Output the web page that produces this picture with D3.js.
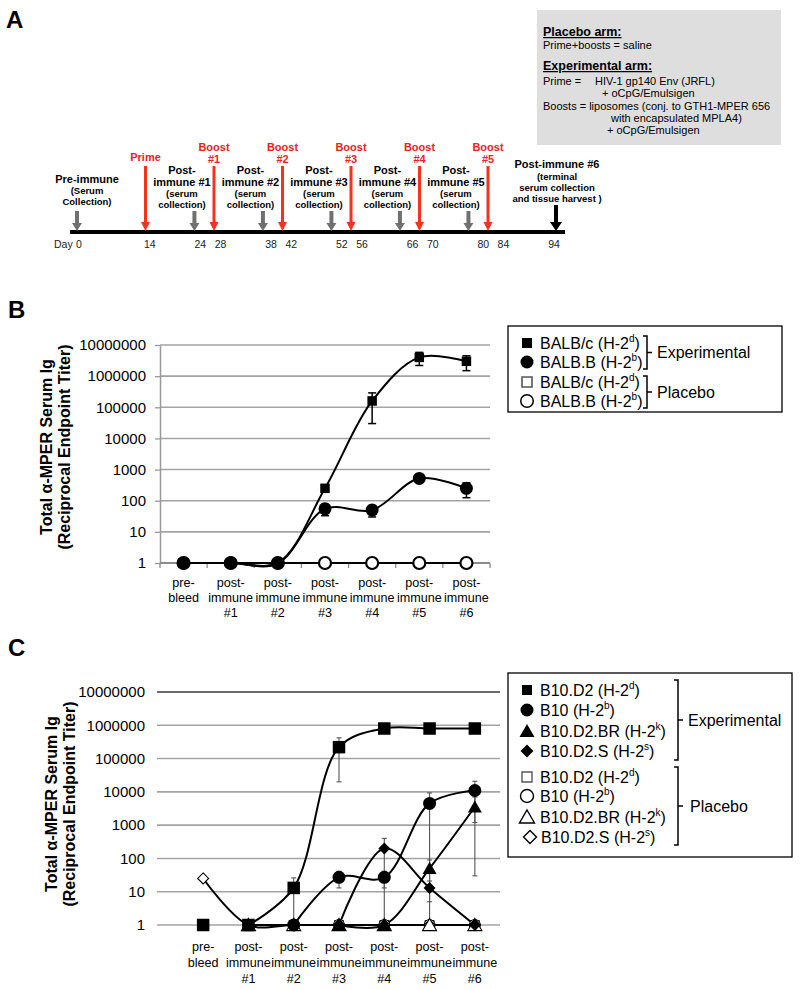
<!DOCTYPE html>
<html><head><meta charset="utf-8">
<script src="https://cdn.jsdelivr.net/npm/d3@7"></script>
<style>
body{margin:0;background:#fff}
svg{display:block}
text{font-family:"Liberation Sans",Arial,Helvetica,sans-serif}
</style>
</head><body>
<svg id="fig" width="800" height="990"></svg>
<script>
// ================= DATA =================
// Panel A: immunization timeline
const dayTicks = [0, 14, 24, 28, 38, 42, 52, 56, 66, 70, 80, 84, 94];
const collectionDays = [0, 24, 38, 52, 66, 80];
const collectionLabels = [
  ["Pre-immune", "(Serum", "Collection)"],
  ["Post-", "immune #1", "(serum", "collection)"],
  ["Post-", "immune #2", "(serum", "collection)"],
  ["Post-", "immune #3", "(serum", "collection)"],
  ["Post-", "immune #4", "(serum", "collection)"],
  ["Post-", "immune #5", "(serum", "collection)"]
];
const doseDays = [14, 28, 42, 56, 70, 84];
const doseLabels = [["Prime"], ["Boost", "#1"], ["Boost", "#2"], ["Boost", "#3"], ["Boost", "#4"], ["Boost", "#5"]];
const terminalDay = 94;
const terminalLabel = ["Post-immune #6", "(terminal", "serum collection", "and tissue harvest )"];
const boxHeadings = ["Placebo arm:", "Experimental arm:"];
const boxLines = ["Prime+boosts = saline", "Prime =", "HIV-1 gp140 Env (JRFL)", "+ oCpG/Emulsigen",
  "Boosts = liposomes (conj. to GTH1-MPER 656", "with encapsulated MPLA4)", "+ oCpG/Emulsigen"];

// Shared categories / ticks (panels B and C)
const categories = ["pre-bleed", "post-immune #1", "post-immune #2", "post-immune #3", "post-immune #4", "post-immune #5", "post-immune #6"];
const categoryLabels = [["pre-", "bleed"], ["post-", "immune", "#1"], ["post-", "immune", "#2"], ["post-", "immune", "#3"],
  ["post-", "immune", "#4"], ["post-", "immune", "#5"], ["post-", "immune", "#6"]];
const yTickValues = [1, 10, 100, 1000, 10000, 100000, 1000000, 10000000];
const yTitle = ["Total \u03b1-MPER Serum Ig", "(Reciprocal Endpoint Titer)"];

// Panel B
const bNames = ["BALB/c (H-2", "BALB.B (H-2", "BALB/c (H-2", "BALB.B (H-2"];
const bHaplo = ["d", "b", "d", "b"];
const bGroups = ["Experimental", "Placebo"];
const bBalbcExp = [1, 1, 1, 250, 160000, 4000000, 3000000];
const bBalbcExpErr = [0, 0, 0, 40, 130000, 1800000, 1500000];
const bBalbbExp = [1, 1, 1, 55, 50, 520, 250];
const bBalbbExpErr = [0, 0, 0, 22, 20, 60, 125];
const bBalbcPla = [1, 1, 1, 1, 1, 1, 1];
const bBalbbPla = [1, 1, 1, 1, 1, 1, 1];

// Panel C
const cNames = ["B10.D2 (H-2", "B10 (H-2", "B10.D2.BR (H-2", "B10.D2.S (H-2", "B10.D2 (H-2", "B10 (H-2", "B10.D2.BR (H-2", "B10.D2.S (H-2"];
const cHaplo = ["d", "b", "k", "s", "d", "b", "k", "s"];
const cGroups = ["Experimental", "Placebo"];
const cB10D2Exp = [1, 1, 13, 220000, 800000, 800000, 800000];
const cB10D2ExpErr = [0, 0, 13, 200000, 0, 0, 0];
const cB10D2ExpLineFrom = 1;
const cB10Exp = [null, null, 1, 27, 27, 4500, 11000];
const cB10ExpErr = [0, 0, 0, 14, 14, 4800, 9800];
const cB10D2BRExp = [null, null, null, 1, 1, 50, 3500];
const cB10D2BRExpErr = [0, 0, 0, 0, 0, 40, 3470];
const cB10D2SExp = [null, null, null, 1, 200, 13, 1];
const cB10D2SExpErr = [0, 0, 0, 0, 200, 8, 0];
const cB10D2Pla = [null, 1, 1, 1, 1, 1, 1];
const cB10Pla = [null, 1, 1, 1, 1, 1, 1];
const cB10D2BRPla = [null, 1, 1, 1, 1, 1, 1];
const cB10D2SPla = [25, 1, 1, 1, 1, 1, 1];

// ================= DRAWING =================
const svg = d3.select("#fig");
svg.append("rect").attr("width", 800).attr("height", 990).attr("fill", "#fff");

function symPath(shape, s) {
  const h = s / 2;
  if (shape === "square") return `M${-h},${-h}h${s}v${s}h${-s}Z`;
  if (shape === "circle") return `M${h},0A${h},${h} 0 1,1 ${-h},0A${h},${h} 0 1,1 ${h},0Z`;
  if (shape === "triangle") { const th = s * 0.87; return `M0,${-th / 2 - 0.5}L${h},${th / 2 - 0.5}L${-h},${th / 2 - 0.5}Z`; }
  if (shape === "diamond") return `M0,${-h}L${h},0L0,${h}L${-h},0Z`;
}

// Panel letters
[["A", 6, 28], ["B", 8, 318], ["C", 8, 656]].forEach(([t, x, y]) =>
  svg.append("text").attr("x", x).attr("y", y).attr("font-size", 24).attr("font-weight", "bold").text(t));

// ---------- Panel A ----------
const gA = svg.append("g");
const arrowX = d3.scaleLinear().domain([0, 84, 94]).range([77, 488, 556]);
const dayX = d3.scaleLinear().domain([0, 94]).range([79, 554]);
const RED = "#f2331e", REDTXT = "#f0201c", GREY = "#707070";

function arrow(x, yTop, yBot, sw, hw, hh, color) {
  gA.append("path").attr("fill", color)
    .attr("d", `M${x - sw / 2},${yTop}L${x + sw / 2},${yTop}L${x + sw / 2},${yBot - hh}L${x + hw / 2},${yBot - hh}L${x},${yBot}L${x - hw / 2},${yBot - hh}L${x - sw / 2},${yBot - hh}Z`);
}
function multiText(g, cx, lines, color) {
  const t = g.append("text").attr("text-anchor", "middle").attr("font-weight", "bold").attr("fill", color);
  lines.forEach(l => t.append("tspan").attr("x", cx).attr("y", l[2]).attr("font-size", l[1]).text(l[0]));
}

gA.append("rect").attr("x", 70).attr("y", 230).attr("width", 495).attr("height", 4).attr("fill", "#000");

collectionDays.forEach((d, i) => {
  const ax = arrowX(d);
  arrow(ax, 211, 231, 4, 10, 8, GREY);
  const lab = collectionLabels[i];
  if (i === 0) {
    multiText(gA, ax + 10, [[lab[0], 11, 183], [lab[1], 9.5, 194], [lab[2], 9.5, 205]], "#000");
  } else {
    multiText(gA, ax - 12.5, [[lab[0], 11, 174], [lab[1], 11, 186], [lab[2], 9.5, 197], [lab[3], 9.5, 208]], "#000");
  }
});
doseDays.forEach((d, i) => {
  const ax = arrowX(d);
  arrow(ax, 166, 231, 3, 9, 9, RED);
  const lab = doseLabels[i];
  if (lab.length === 1) multiText(gA, ax, [[lab[0], 11, 161]], REDTXT);
  else multiText(gA, ax, [[lab[0], 11, 151], [lab[1], 11, 163]], REDTXT);
});
{
  const ax = arrowX(terminalDay);
  arrow(ax, 205, 231, 4, 12, 9, "#000");
  multiText(gA, ax + 1, [[terminalLabel[0], 11, 168], [terminalLabel[1], 9.5, 180], [terminalLabel[2], 9.5, 191], [terminalLabel[3], 9.5, 202]], "#000");
}
gA.append("text").attr("x", 54).attr("y", 248).attr("font-size", 10.5).attr("fill", "#222").text("Day");
gA.selectAll(".day").data(dayTicks).join("text")
  .attr("x", d => dayX(d)).attr("y", 248).attr("text-anchor", "middle")
  .attr("font-size", 10.5).attr("fill", "#222").text(d => d);

// Grey info box
gA.append("rect").attr("x", 537).attr("y", 10).attr("width", 244).attr("height", 135).attr("fill", "#dedede");
gA.append("text").attr("x", 543).attr("y", 36).attr("font-size", 12.5).attr("font-weight", "bold")
  .attr("text-decoration", "underline").text(boxHeadings[0]);
gA.append("text").attr("x", 543).attr("y", 70).attr("font-size", 12.5).attr("font-weight", "bold")
  .attr("text-decoration", "underline").text(boxHeadings[1]);
[[boxLines[0], 543, 49], [boxLines[1], 543, 85], [boxLines[2], 595, 85], [boxLines[3], 602, 97],
 [boxLines[4], 543, 110], [boxLines[5], 611, 122], [boxLines[6], 607, 134]].forEach(([t, x, y]) =>
  gA.append("text").attr("x", x).attr("y", y).attr("font-size", 11).text(t));

// ---------- Chart drawing ----------
function drawChart(cfg) {
  const g = svg.append("g");
  const x = d3.scaleBand().domain(categories).range([cfg.x0, cfg.x1]);
  const y = d3.scaleLog().domain([1, 1e7]).range([cfg.yBot, cfg.yTop]);
  const cx = c => x(c) + x.bandwidth() / 2;

  // gridlines
  g.selectAll(".grid").data(yTickValues.filter(v => cfg.gridFromOne || v > 1)).join("line")
    .attr("x1", cfg.gridX0).attr("x2", cfg.gridX1)
    .attr("y1", d => y(d)).attr("y2", d => y(d))
    .attr("stroke", d => (cfg.darkTop && d === 1e7) ? "#6a6a6a" : "#a3a3a3")
    .attr("stroke-width", d => (cfg.darkTop && d === 1e7) ? 2 : 1.6);

  // y axis
  const ax = d3.axisLeft(y).tickValues(yTickValues).tickFormat(d3.format("d"))
    .tickSize(cfg.tickSize).tickSizeOuter(0).tickPadding(cfg.tickPad);
  const ag = g.append("g").attr("transform", `translate(${cfg.axisX},0)`).call(ax);
  ag.selectAll("text").attr("font-size", 15).attr("fill", "#000")
    .attr("font-family", '"Liberation Sans",Arial,sans-serif');
  ag.selectAll(".tick line").attr("stroke", "#999").attr("stroke-width", 1.3);
  if (cfg.showDomain) ag.select(".domain").attr("stroke", "#999").attr("stroke-width", 1.5);
  else ag.select(".domain").remove();

  // x axis
  if (cfg.showXAxis) {
    g.append("line").attr("x1", cfg.x0).attr("x2", cfg.x1).attr("y1", cfg.yBot).attr("y2", cfg.yBot)
      .attr("stroke", "#8c8c8c").attr("stroke-width", 2);
    const bounds = categories.map(c => x(c)).concat([cfg.x1]);
    g.selectAll(".xt").data(bounds).join("line")
      .attr("x1", d => d).attr("x2", d => d).attr("y1", cfg.yBot).attr("y2", cfg.yBot + 5)
      .attr("stroke", "#8c8c8c").attr("stroke-width", 1.3);
  }
  categories.forEach((c, i) => {
    const t = g.append("text").attr("text-anchor", "middle").attr("font-size", 12.6).attr("fill", "#000");
    categoryLabels[i].forEach((l, j) => t.append("tspan").attr("x", cx(c)).attr("y", cfg.labY + j * cfg.labDy).text(l));
  });

  // y title
  const tt = g.append("text").attr("text-anchor", "middle").attr("font-size", 16).attr("font-weight", "bold")
    .attr("transform", `translate(0,${cfg.titleY}) rotate(-90)`);
  tt.append("tspan").attr("x", 0).attr("y", cfg.titleX1).text(yTitle[0]);
  tt.append("tspan").attr("x", 0).attr("y", cfg.titleX2).text(yTitle[1]);

  // lines
  const line = d3.line().defined(d => d.v != null)
    .x(d => cx(d.c)).y(d => y(d.v)).curve(d3.curveCatmullRom.alpha(0.5));
  cfg.series.forEach(s => {
    const pts = s.values.map((v, i) => ({c: categories[i], v: (i < (s.lineFrom || 0)) ? null : v}));
    g.append("path").datum(pts).attr("d", line).attr("fill", "none")
      .attr("stroke", "#000").attr("stroke-width", 2);
  });
  // error bars
  cfg.series.forEach(s => {
    if (!s.err) return;
    s.values.forEach((v, i) => {
      const e = s.err[i];
      if (v == null || !e) return;
      const hi = y(v + e), lo = (v - e) >= 1 ? y(v - e) : cfg.yBot;
      const xc = cx(categories[i]);
      const eg = g.append("g").attr("stroke", cfg.errColor).attr("stroke-width", cfg.errWidth);
      eg.append("line").attr("x1", xc).attr("x2", xc).attr("y1", hi).attr("y2", lo);
      eg.append("line").attr("x1", xc - cfg.capW / 2).attr("x2", xc + cfg.capW / 2).attr("y1", hi).attr("y2", hi);
      eg.append("line").attr("x1", xc - cfg.capW / 2).attr("x2", xc + cfg.capW / 2).attr("y1", lo).attr("y2", lo);
    });
  });
  // markers
  cfg.series.forEach(s => {
    g.selectAll(null).data(s.values.map((v, i) => ({c: categories[i], v})).filter(d => d.v != null)).join("path")
      .attr("transform", d => `translate(${cx(d.c)},${y(d.v)})`)
      .attr("d", symPath(s.shape, s.size))
      .attr("fill", s.filled ? "#000" : "#fff")
      .attr("stroke", "#000").attr("stroke-width", s.filled ? 0 : s.sw);
  });
}

// Panel B chart
drawChart({
  x0: 160, x1: 490, yBot: 563, yTop: 345, gridX0: 160, gridX1: 490, gridFromOne: false, darkTop: false,
  axisX: 160, tickSize: 5, tickPad: 9, showDomain: true, showXAxis: true,
  labY: 587, labDy: 15, titleY: 447, titleX1: 52, titleX2: 70,
  errColor: "#000", errWidth: 1.5, capW: 8,
  series: [
    {values: bBalbcPla, shape: "square", size: 8, filled: false, sw: 1.5},
    {values: bBalbbPla, shape: "circle", size: 12, filled: false, sw: 2.2},
    {values: bBalbcExp, err: bBalbcExpErr, shape: "square", size: 9.5, filled: true},
    {values: bBalbbExp, err: bBalbbExpErr, shape: "circle", size: 13, filled: true}
  ]
});

// Panel C chart
drawChart({
  x0: 180.5, x1: 497.5, yBot: 925, yTop: 692, gridX0: 157, gridX1: 500, gridFromOne: true, darkTop: true,
  axisX: 157, tickSize: 0, tickPad: 12, showDomain: false, showXAxis: false,
  labY: 951, labDy: 16, titleY: 804, titleX1: 57, titleX2: 75,
  errColor: "#555", errWidth: 1.1, capW: 5,
  series: [
    {values: cB10D2Pla, shape: "square", size: 9, filled: false, sw: 1},
    {values: cB10Pla, shape: "circle", size: 11, filled: false, sw: 1},
    {values: cB10D2SPla, shape: "diamond", size: 11, filled: false, sw: 1.1},
    {values: cB10D2BRPla, shape: "triangle", size: 14, filled: false, sw: 1.1},
    {values: cB10D2Exp, err: cB10D2ExpErr, lineFrom: cB10D2ExpLineFrom, shape: "square", size: 12.5, filled: true},
    {values: cB10Exp, err: cB10ExpErr, shape: "circle", size: 13, filled: true},
    {values: cB10D2BRExp, err: cB10D2BRExpErr, shape: "triangle", size: 14, filled: true},
    {values: cB10D2SExp, err: cB10D2SExpErr, shape: "diamond", size: 12, filled: true}
  ]
});

// ---------- Legends ----------
function legendText(g, x, yc, name, sup) {
  const t = g.append("text").attr("x", x).attr("y", yc + 5.5).attr("font-size", 16);
  t.append("tspan").text(name);
  t.append("tspan").attr("font-size", 10).attr("dy", -7).text(sup);
  t.append("tspan").attr("dy", 7).text(")");
}
function bracket(g, x, y1, y2, label, lx) {
  g.append("path").attr("fill", "none").attr("stroke", "#000").attr("stroke-width", 1.5)
    .attr("d", `M${x - 4},${y1}H${x}V${y2}H${x - 4}M${x},${(y1 + y2) / 2}H${x + 5}`);
  g.append("text").attr("x", lx).attr("y", (y1 + y2) / 2 + 5.5).attr("font-size", 16).text(label);
}

// B legend
{
  const g = svg.append("g");
  g.append("rect").attr("x", 508).attr("y", 326).attr("width", 274).attr("height", 86)
    .attr("fill", "#fff").attr("stroke", "#000").attr("stroke-width", 1.3);
  const styles = [
    {shape: "square", size: 10, filled: true}, {shape: "circle", size: 13, filled: true},
    {shape: "square", size: 10, filled: false, sw: 1.6, stroke: "#555"}, {shape: "circle", size: 12.5, filled: false, sw: 1.5}
  ];
  const rows = [343, 362, 382, 401];
  bNames.forEach((n, i) => {
    const s = styles[i];
    g.append("path").attr("transform", `translate(527,${rows[i]})`).attr("d", symPath(s.shape, s.size))
      .attr("fill", s.filled ? "#000" : "#fff").attr("stroke", s.stroke || "#000").attr("stroke-width", s.filled ? 0 : s.sw);
    legendText(g, 540, rows[i], n, bHaplo[i]);
  });
  bracket(g, 647, 336, 369, bGroups[0], 657);
  bracket(g, 647, 376, 408, bGroups[1], 657);
}

// C legend
{
  const g = svg.append("g");
  g.append("rect").attr("x", 508).attr("y", 673).attr("width", 284).attr("height", 184)
    .attr("fill", "#fff").attr("stroke", "#000").attr("stroke-width", 1.3);
  const shapes = ["square", "circle", "triangle", "diamond"];
  const sizes = [10, 13, 15, 13];
  const rows = [690, 710, 731, 751, 777, 796, 817, 837];
  cNames.forEach((n, i) => {
    const filled = i < 4;
    const sh = shapes[i % 4];
    g.append("path").attr("transform", `translate(${sh === "diamond" && !filled ? 530 : 527},${rows[i]})`)
      .attr("d", symPath(sh, sizes[i % 4]))
      .attr("fill", filled ? "#000" : "#fff").attr("stroke", sh === "square" && !filled ? "#555" : "#000")
      .attr("stroke-width", filled ? 0 : 1.4);
    legendText(g, sh === "diamond" && !filled ? 541 : 540, rows[i], n, cHaplo[i]);
  });
  bracket(g, 678, 680, 760, cGroups[0], 688);
  bracket(g, 678, 767, 845, cGroups[1], 690);
}
</script>
</body></html>
